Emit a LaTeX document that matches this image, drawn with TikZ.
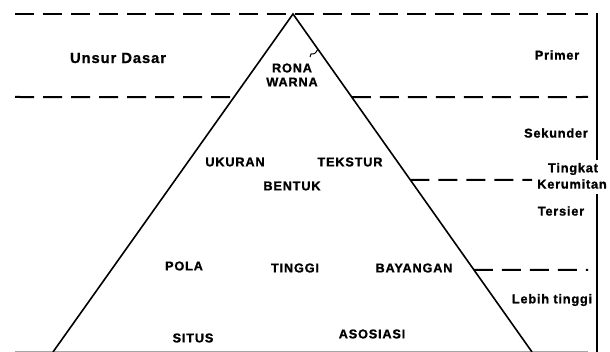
\documentclass[tikz,border=0pt]{standalone}
\usepackage{fontspec}
\usetikzlibrary{calc}
\setmainfont{Liberation Sans}
\newfontfamily\lblfont[LetterSpace=6, BoldFeatures={FakeBold=1}]{Liberation Sans}
\begin{document}
\begin{tikzpicture}[x=1pt,y=-1pt,
  lbl/.style={font=\lblfont\bfseries\fontsize{12.8}{13}\selectfont, inner sep=0pt, text=black},
  side/.style={font=\lblfont\bfseries\fontsize{12.8}{13}\selectfont, inner sep=0pt, align=center},
  dashline/.style={line width=2pt, dash pattern=on 19pt off 9pt},
  edge/.style={line width=1.6pt},
  vline/.style={line width=2pt}]
\useasboundingbox (0,0) rectangle (610,352);
\fill[white] (0,0) rectangle (610,352);
% triangle
\coordinate (apex) at (293,14);
\coordinate (bl) at (53,352);
\coordinate (br) at (532,352);
\draw[gray!70, line width=1pt] (15,351) -- (588,351);
\draw[edge] (bl) -- (apex) -- (br);
% dashed levels
\coordinate (l2l) at (15,97);
\coordinate (l2a) at ($(apex)!0.246!(bl)$);
\coordinate (l2b) at ($(apex)!0.246!(br)$);
\coordinate (l2r) at (588,97);
\draw[dashline] (15,14) -- (588,14);
\draw[dashline] (l2l) -- (l2a);
\draw[dashline] (l2b) -- (l2r);
\coordinate (l3a) at ($(apex)!0.491!(br)$);
\coordinate (l3r) at (532,180);
\draw[dashline] (l3a) -- (l3r);
\coordinate (l4a) at ($(apex)!0.757!(br)$);
\coordinate (l4r) at (588,270);
\draw[dashline] (l4a) -- (l4r);
% vertical
\draw[vline] (597,13) -- (597,160);
\draw[vline] (597,194) -- (597,352);
% leader
\draw[line width=1pt] (318,49) .. controls (315,54) .. (311,54) -- (310,57);
% labels
\node[lbl, font=\lblfont\bfseries\fontsize{14.8}{15}\selectfont] (unsur) at (118,58) {Unsur Dasar};
\node[side] (primer) at (557,55) {Primer};
\node[lbl] (rona) at (292,68) {RONA};
\node[lbl] (warna) at (292,82) {WARNA};
\node[side] (sekunder) at (556,133) {Sekunder};
\node[side] (tingkat) at (573,169) {Tingkat};
\node[side] (kerumitan) at (572,184) {Kerumitan};
\node[side] (tersier) at (561,211) {Tersier};
\node[side] (lebih) at (552,300) {Lebih tinggi};
\node[lbl] (ukuran) at (235,162) {UKURAN};
\node[lbl] (tekstur) at (350,162) {TEKSTUR};
\node[lbl] (bentuk) at (292,186) {BENTUK};
\node[lbl] (pola) at (184,266) {POLA};
\node[lbl] (tinggi) at (295,268) {TINGGI};
\node[lbl] (bayangan) at (414,268) {BAYANGAN};
\node[lbl] (situs) at (193,338) {SITUS};
\node[lbl] (asosiasi) at (372,334) {ASOSIASI};
\end{tikzpicture}
\end{document}
